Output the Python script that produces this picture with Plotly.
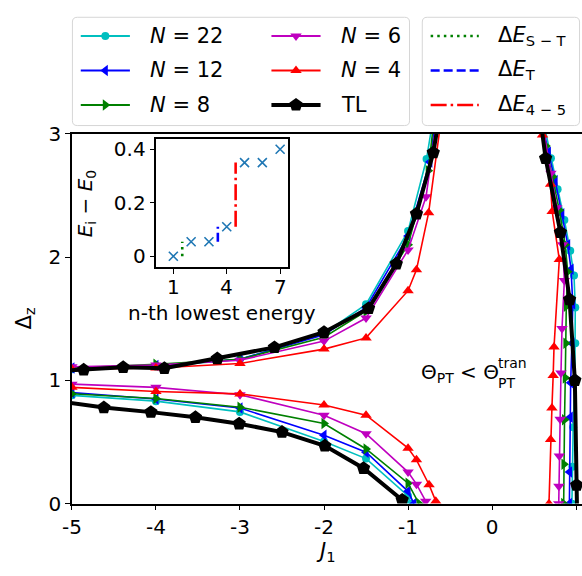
import plotly.graph_objects as go

W, H = 582, 576

# ---------------- data ----------------
# thermodynamic limit (TL)
tl_up_x = [-5.3, -4.86, -4.39, -3.90, -3.27, -2.59, -2.00, -1.47, -1.14, -0.90, -0.70, -0.60]
tl_up_y = [1.07, 1.085, 1.105, 1.098, 1.176, 1.267, 1.39, 1.583, 1.945, 2.35, 2.846, 3.25]
tl_lo_x = [-5.15, -4.62, -4.06, -3.53, -3.01, -2.50, -1.99, -1.53, -1.07]
tl_lo_y = [0.83, 0.779, 0.742, 0.70, 0.648, 0.58, 0.469, 0.287, 0.03]
tl_rt_x = [1.012, 1.006, 0.985, 0.922, 0.813, 0.637, 0.56]
tl_rt_y = [-0.1, 0.15, 1.0, 1.655, 2.20, 2.80, 3.2]

# N = 22
n22_up_x = [-5, -4, -3, -2, -1.5, -1.0, -0.78, -0.66]
n22_up_y = [1.09, 1.11, 1.17, 1.38, 1.616, 2.21, 2.795, 3.3]
n22_lo_x = [-5, -4, -3, -2, -1.5, -1.0, -0.97]
n22_lo_y = [0.878, 0.831, 0.744, 0.503, 0.365, 0.062, 0.0]
n22_rt_x = [0.95, 0.955, 0.965, 0.985, 0.99, 0.99, 0.975, 0.93, 0.86, 0.78, 0.70, 0.58]
n22_rt_y = [0.0, 0.3, 0.62, 1.01, 1.30, 1.59, 1.85, 2.05, 2.30, 2.55, 2.80, 3.2]

# N = 12
n12_up_x = [-5, -4, -3, -2, -1.5, -1.0, -0.74, -0.64]
n12_up_y = [1.10, 1.12, 1.17, 1.37, 1.59, 2.17, 2.77, 3.3]
n12_lo_x = [-5, -4, -3, -2, -1.5, -1.0, -0.93]
n12_lo_y = [0.90, 0.848, 0.775, 0.554, 0.417, 0.10, 0.0]
n12_rt_x = [0.92, 0.922, 0.93, 0.935, 0.95, 0.96, 0.94, 0.90, 0.83, 0.75, 0.67, 0.56]
n12_rt_y = [0.0, 0.256, 0.70, 0.98, 1.30, 1.62, 1.90, 2.10, 2.35, 2.62, 2.85, 3.2]

# N = 8
n8_up_x = [-5, -4, -3, -2, -1.5, -1.0, -0.76, -0.66]
n8_up_y = [1.10, 1.13, 1.17, 1.35, 1.56, 2.10, 2.70, 3.3]
n8_lo_x = [-5, -4, -3, -2, -1.5, -1.0, -0.87]
n8_lo_y = [0.891, 0.852, 0.782, 0.65, 0.443, 0.166, 0.0]
n8_rt_x = [0.852, 0.855, 0.862, 0.871, 0.878, 0.883, 0.90, 0.87, 0.80, 0.72, 0.64, 0.57]
n8_rt_y = [0.0, 0.32, 0.68, 1.02, 1.30, 1.60, 1.88, 2.10, 2.38, 2.65, 2.90, 3.2]

# N = 6
n6_up_x = [-5, -4, -3, -2, -1.5, -1.0, -0.786, -0.65]
n6_up_y = [1.11, 1.124, 1.163, 1.318, 1.505, 2.057, 2.489, 3.15]
n6_lo_x = [-5, -4, -3, -2, -1.5, -1.0, -0.9, -0.79]
n6_lo_y = [0.969, 0.943, 0.883, 0.717, 0.567, 0.256, 0.158, 0.02]
n6_rt_x = [0.793, 0.795, 0.80, 0.81, 0.82, 0.832, 0.86, 0.84, 0.77, 0.70, 0.57]
n6_rt_y = [0.0, 0.14, 0.386, 0.684, 1.06, 1.42, 1.81, 2.10, 2.40, 2.68, 3.2]

# N = 4
n4_up_x = [-5, -4, -3, -2, -1.5, -1.0, -0.9, -0.755, -0.60]
n4_up_y = [1.09, 1.10, 1.137, 1.253, 1.344, 1.727, 1.896, 2.36, 3.15]
n4_lo_x = [-5, -4, -3, -2, -1.5, -1.0, -0.9, -0.75, -0.67]
n4_lo_y = [0.943, 0.909, 0.89, 0.80, 0.717, 0.45, 0.355, 0.153, 0.02]
n4_rt_x = [0.677, 0.696, 0.712, 0.727, 0.737, 0.80, 0.715, 0.696, 0.60, 0.55]
n4_rt_y = [0.0, 0.52, 0.775, 1.04, 1.27, 1.98, 2.37, 2.59, 2.99, 3.3]

# inset: lowest levels relative to the ground state
level_n = [1, 2, 3, 4, 5, 6, 7]
level_e = [0.0, 0.054, 0.054, 0.11, 0.35, 0.35, 0.40]
gap_st_pos = 1.5   # singlet-triplet gap
gap_t_pos = 3.5    # triplet gap
gap_45_pos = 4.5   # gap between 4th and 5th levels

x_ticks = [-5, -4, -3, -2, -1, 0, 1]
x_tick_text = ["-5", "-4", "-3", "-2", "-1", "0", "1"]
y_ticks = [0, 1, 2, 3]
inset_x_ticks = [1, 4, 7]
inset_y_ticks = [0, 0.2, 0.4]
inset_y_tick_text = ["0", "0.2", "0.4"]

# ---------------- styles ----------------
FONT = "DejaVu Sans"
series = [
    ("<i>N</i> = 22", "#00BFBF", "circle", 8, 1.6,
     [(n22_up_x, n22_up_y), (n22_lo_x, n22_lo_y), (n22_rt_x, n22_rt_y)]),
    ("<i>N</i> = 12", "#0000FF", "triangle-left", 10, 1.6,
     [(n12_up_x, n12_up_y), (n12_lo_x, n12_lo_y), (n12_rt_x, n12_rt_y)]),
    ("<i>N</i> = 8", "#008000", "triangle-right", 10, 1.6,
     [(n8_up_x, n8_up_y), (n8_lo_x, n8_lo_y), (n8_rt_x, n8_rt_y)]),
    ("<i>N</i> = 6", "#BF00BF", "triangle-down", 10, 1.6,
     [(n6_up_x, n6_up_y), (n6_lo_x, n6_lo_y), (n6_rt_x, n6_rt_y)]),
    ("<i>N</i> = 4", "#FF0000", "triangle-up", 10, 1.6,
     [(n4_up_x, n4_up_y), (n4_lo_x, n4_lo_y), (n4_rt_x, n4_rt_y)]),
    ("TL", "#000000", "pentagon", 14, 4.0,
     [(tl_up_x, tl_up_y), (tl_lo_x, tl_lo_y), (tl_rt_x, tl_rt_y)]),
]

fig = go.Figure()

for name, color, sym, msize, lw, branches in series:
    for bx, by in branches:
        fig.add_trace(go.Scatter(
            x=bx, y=by, mode="lines+markers", name=name, showlegend=False,
            line=dict(color=color, width=lw),
            marker=dict(symbol=sym, size=msize, color=color, line=dict(width=0)),
            xaxis="x", yaxis="y",
        ))

# inset
fig.add_trace(go.Scatter(
    x=level_n, y=level_e, mode="markers", showlegend=False,
    marker=dict(symbol="x-thin", size=9, line=dict(color="#1f77b4", width=1.6)),
    xaxis="x2", yaxis="y2",
))
gap_specs = [
    (gap_st_pos, level_e[0], level_e[1], "#008000", "2.5px,4.1px"),
    (gap_t_pos, level_e[2], level_e[3], "#0000FF", "9px,4px"),
    (gap_45_pos, level_e[3], level_e[4], "#FF0000", "16px,4px,2.5px,4px"),
]
for gx, e0, e1, color, dash in gap_specs:
    fig.add_trace(go.Scatter(
        x=[gx, gx], y=[e0, e1], mode="lines", showlegend=False,
        line=dict(color=color, width=2.6, dash=dash),
        xaxis="x2", yaxis="y2",
    ))

# ---------------- legend (drawn on a pixel-space overlay axis) ----------------
def legend_key(x0, x1, yc, color, lw, dash="solid", sym=None, msize=0):
    fig.add_trace(go.Scatter(
        x=[x0, x1], y=[yc, yc], mode="lines", showlegend=False,
        line=dict(color=color, width=lw, dash=dash), hoverinfo="skip",
        xaxis="x3", yaxis="y3",
    ))
    if sym:
        fig.add_trace(go.Scatter(
            x=[(x0 + x1) / 2], y=[yc], mode="markers", showlegend=False,
            marker=dict(symbol=sym, size=msize, color=color, line=dict(width=0)),
            hoverinfo="skip", xaxis="x3", yaxis="y3",
        ))

annotations = []

def label(x, y, text, size=21, anchor="left", xref="x3", **kw):
    annotations.append(dict(
        x=x, y=y, xref=xref, yref="y3", text=text, showarrow=False,
        xanchor=anchor, yanchor="middle", font=dict(family=FONT, size=size, color="black"),
        **kw))

rows = [25, 61, 97]
cols = [(72, 122, 140), (266, 316, 335)]
for i, (name, color, sym, msize, lw, _) in enumerate(series):
    c = cols[i // 3]
    r = rows[i % 3]
    legend_key(c[0], c[1], r, color, lw if lw > 2 else 2.0, sym=sym, msize=msize)
    label(c[2], r, name)

gap_names = ["Δ<i>E</i><sub>S − T</sub>", "Δ<i>E</i><sub>T</sub>", "Δ<i>E</i><sub>4 − 5</sub>"]
for (gx, e0, e1, color, dash), r, nm in zip(gap_specs, rows, gap_names):
    legend_key(428, 477, r, color, 2.6, dash=dash)
    label(495, r, nm)

def rounded_box(x0, y0, x1, y1, r=5):
    return (f"M{x0 + r},{y0} L{x1 - r},{y0} Q{x1},{y0} {x1},{y0 + r} "
            f"L{x1},{y1 - r} Q{x1},{y1} {x1 - r},{y1} L{x0 + r},{y1} "
            f"Q{x0},{y1} {x0},{y1 - r} L{x0},{y0 + r} Q{x0},{y0} {x0 + r},{y0} Z")

shapes = [
    dict(type="path", path=rounded_box(63.5, 5.5, 406.5, 118.5), xref="x3", yref="y3",
         line=dict(color="#D6D6D6", width=1), fillcolor="rgba(255,255,255,0.8)", layer="below"),
    dict(type="path", path=rounded_box(419.5, 5.5, 579.5, 118.5), xref="x3", yref="y3",
         line=dict(color="#D6D6D6", width=1), fillcolor="rgba(255,255,255,0.8)", layer="below"),
]

# axis titles and text
label(322, 563, "<i>J</i><sub>1</sub>", size=21, anchor="center")
label(15, 320, "Δ<sub>z</sub>", size=21, anchor="center", textangle=-90)
label(216, 314, "n-th lowest energy", size=20, anchor="center")
label(77, 200, "<i>E</i><sub>i</sub> − <i>E</i><sub>0</sub>", size=20, anchor="center", textangle=-90)
label(416, 377, "Θ<sub>PT</sub> < Θ", size=20, anchor="left")
label(495, 366, "tran", size=14, anchor="left")
label(495, 387, "PT", size=14, anchor="left")

# inset x tick labels sit close to the inset's bottom spine
for t in inset_x_ticks:
    label(t, 287, str(t), size=20, anchor="center", xref="x2")

def px_x(p):
    return p / W

def px_y(p):
    return 1 - p / H

tick_font = dict(family=FONT, size=20, color="black")
common = dict(ticks="outside", ticklen=5, tickwidth=1.3, tickcolor="black",
              showline=True, linecolor="black", linewidth=1.6,
              showgrid=False, zeroline=False, tickfont=tick_font)
fig.update_layout(
    width=W, height=H, margin=dict(l=0, r=0, t=0, b=0),
    paper_bgcolor="white", plot_bgcolor="rgba(0,0,0,0)",
    showlegend=False,
    xaxis=dict(domain=[px_x(63), 1.0], range=[-5, 1.07], tickvals=x_ticks, ticktext=x_tick_text,
               mirror=True, anchor="y", **common),
    yaxis=dict(domain=[px_y(513), px_y(127)], range=[0, 3], tickvals=y_ticks,
               anchor="x", **common),
    xaxis2=dict(domain=[px_x(149), px_x(283)], range=[0.05, 7.45], tickvals=inset_x_ticks,
                showticklabels=False, mirror=True, anchor="y2", **common),
    yaxis2=dict(domain=[px_y(266), px_y(132)], range=[-0.04, 0.44], tickvals=inset_y_ticks,
                ticktext=inset_y_tick_text, mirror=True, anchor="x2", **common),
    xaxis3=dict(domain=[0, 1], range=[0, W], visible=False, fixedrange=True, anchor="y3"),
    yaxis3=dict(domain=[0, 1], range=[H, 0], visible=False, fixedrange=True, anchor="x3"),
    annotations=annotations,
    shapes=shapes,
)

fig.write_html("out.html")
